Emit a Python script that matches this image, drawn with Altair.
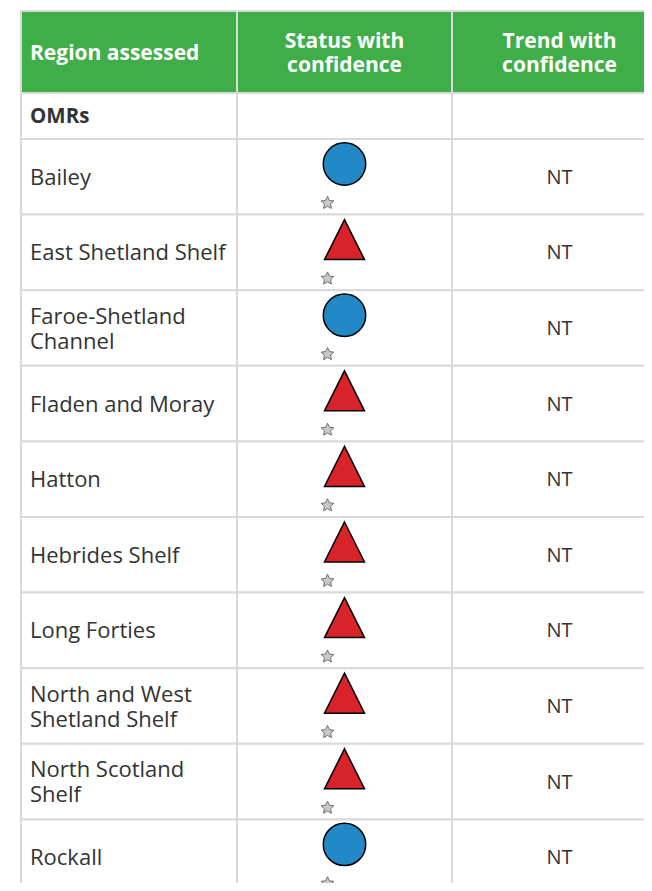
import math
import altair as alt
import pandas as pd

# ---------------- data ----------------
headers = ["Region assessed", "Status with\nconfidence", "Trend with\nconfidence"]
group_label = "OMRs"
regions = [
    "Bailey",
    "East Shetland Shelf",
    "Faroe-Shetland\nChannel",
    "Fladen and Moray",
    "Hatton",
    "Hebrides Shelf",
    "Long Forties",
    "North and West\nShetland Shelf",
    "North Scotland\nShelf",
    "Rockall",
]
status = ["circle", "triangle", "circle", "triangle", "triangle",
          "triangle", "triangle", "triangle", "triangle", "circle"]
confidence_stars = [1, 1, 1, 1, 1, 1, 1, 1, 1, 1]
trend = ["NT", "NT", "NT", "NT", "NT", "NT", "NT", "NT", "NT", "NT"]

# ---------------- layout (screen pixels) ----------------
COL_EDGES = [21, 237, 452, 667]
HEADER_TOP, HEADER_BOTTOM, GROUP_BOTTOM = 11, 93, 139
ROW_H = 75.6
W, H = 636, 875
GREEN = "#3fae49"
GRID = "#d9d9d9"
TEXT = "#333333"
FONT = "Open Sans"
LH = 25

row_tops = [GROUP_BOTTOM + i * ROW_H for i in range(len(regions))]

header_cells, body_cells = [], []
for c in range(3):
    header_cells.append(dict(x=COL_EDGES[c], x2=COL_EDGES[c + 1], y=HEADER_TOP, y2=HEADER_BOTTOM))
    body_cells.append(dict(x=COL_EDGES[c], x2=COL_EDGES[c + 1], y=HEADER_BOTTOM, y2=GROUP_BOTTOM))
    for t in row_tops:
        body_cells.append(dict(x=COL_EDGES[c], x2=COL_EDGES[c + 1], y=t, y2=t + ROW_H))


def block_y(center, text, lh):
    # vertical position of first line so a multi-line block is centred
    return center - (text.count("\n")) * lh / 2


col_centers = [(COL_EDGES[i] + COL_EDGES[i + 1]) / 2 for i in range(3)]
hdr_c = (HEADER_TOP + HEADER_BOTTOM) / 2 + 2
header_left_df = pd.DataFrame([dict(x=COL_EDGES[0] + 9, y=block_y(hdr_c, headers[0], 24), text=headers[0])])
header_center_df = pd.DataFrame([
    dict(x=col_centers[1], y=block_y(hdr_c, headers[1], 24), text=headers[1]),
    dict(x=col_centers[2], y=block_y(hdr_c, headers[2], 24), text=headers[2]),
])
group_df = pd.DataFrame([dict(x=COL_EDGES[0] + 9, y=(HEADER_BOTTOM + GROUP_BOTTOM) / 2 + 1, text=group_label)])

rows_df = pd.DataFrame(dict(
    region=regions,
    status=status,
    trend=trend,
    stars=confidence_stars,
    top=row_tops,
))
rows_df["mid"] = rows_df["top"] + ROW_H / 2 + 1
rows_df["label_y"] = [block_y(m, r, LH) for m, r in zip(rows_df["mid"], regions)]
rows_df["shape_y"] = rows_df["top"] + 25
rows_df["star_y"] = rows_df["top"] + 64
rows_df["label_x"] = COL_EDGES[0] + 9
rows_df["shape_x"] = col_centers[1]
rows_df["star_x"] = col_centers[1] - 17
rows_df["trend_x"] = col_centers[2]

# star path (unit radius)
pts = []
for k in range(10):
    r = 1.0 if k % 2 == 0 else 0.48
    a = -math.pi / 2 + k * math.pi / 5
    pts.append(f"{r * math.cos(a):.3f},{r * math.sin(a):.3f}")
STAR = "M" + "L".join(pts) + "Z"
TRIANGLE = "M0,-1L1,1L-1,1Z"

xs = alt.Scale(domain=[8, 8 + W], range=[0, W], nice=False, zero=False)
ys = alt.Scale(domain=[8, 8 + H], range=[0, H], nice=False, zero=False)


def cell_layer(data, fill):
    return alt.Chart(pd.DataFrame(data)).mark_rect(fill=fill, stroke=GRID, strokeWidth=2, clip=True).encode(
        x=alt.X("x:Q", scale=xs, axis=None),
        x2="x2:Q",
        y=alt.Y("y:Q", scale=ys, axis=None),
        y2="y2:Q",
    )


hdr_cells = cell_layer(header_cells, GREEN)
bdy_cells = cell_layer(body_cells, "#ffffff")

hdr_left = alt.Chart(header_left_df).mark_text(
    align="left", baseline="middle", font=FONT, fontWeight="bold", fontSize=21, color="white", lineBreak="\n", lineHeight=24
).encode(x=alt.X("x:Q", scale=xs, axis=None), y=alt.Y("y:Q", scale=ys, axis=None), text="text:N")

hdr_center = alt.Chart(header_center_df).mark_text(
    align="center", baseline="middle", font=FONT, fontWeight="bold", fontSize=21, color="white", lineBreak="\n", lineHeight=24
).encode(x=alt.X("x:Q", scale=xs, axis=None), y=alt.Y("y:Q", scale=ys, axis=None), text="text:N")

grp = alt.Chart(group_df).mark_text(
    align="left", baseline="middle", font=FONT, fontWeight="bold", fontSize=20.5, color=TEXT
).encode(x=alt.X("x:Q", scale=xs, axis=None), y=alt.Y("y:Q", scale=ys, axis=None), text="text:N")

labels = alt.Chart(rows_df).mark_text(
    align="left", baseline="middle", font=FONT, fontSize=22, color=TEXT, lineBreak="\n", lineHeight=LH, clip=True
).encode(x=alt.X("label_x:Q", scale=xs, axis=None), y=alt.Y("label_y:Q", scale=ys, axis=None), text="region:N")

shapes = alt.Chart(rows_df).mark_point(filled=True, stroke="black", strokeWidth=1.5, opacity=1, clip=True).encode(
    x=alt.X("shape_x:Q", scale=xs, axis=None),
    y=alt.Y("shape_y:Q", scale=ys, axis=None),
    shape=alt.Shape("status:N", scale=alt.Scale(domain=["circle", "triangle"], range=["circle", TRIANGLE]), legend=None),
    fill=alt.Fill("status:N", scale=alt.Scale(domain=["circle", "triangle"], range=["#2389c6", "#d8232a"]), legend=None),
    size=alt.Size("status:N", scale=alt.Scale(domain=["circle", "triangle"], range=[1800, 1600]), legend=None),
)

stars = alt.Chart(rows_df).mark_point(
    shape=STAR, filled=True, fill="#c8c8c8", stroke="#6f6f6f", strokeWidth=1, size=180, opacity=1, clip=True
).encode(x=alt.X("star_x:Q", scale=xs, axis=None), y=alt.Y("star_y:Q", scale=ys, axis=None))

trend_txt = alt.Chart(rows_df).mark_text(
    align="center", baseline="middle", font=FONT, fontSize=20, color=TEXT, clip=True
).encode(x=alt.X("trend_x:Q", scale=xs, axis=None), y=alt.Y("mid:Q", scale=ys, axis=None), text="trend:N")

chart = alt.layer(hdr_cells, bdy_cells, hdr_left, hdr_center, grp, labels, shapes, stars, trend_txt).properties(
    width=W, height=H, padding=0, autosize=alt.AutoSizeParams(type="none")
).configure_view(stroke=None)

chart.save("out.html", embed_options={"renderer": "svg", "actions": False})
